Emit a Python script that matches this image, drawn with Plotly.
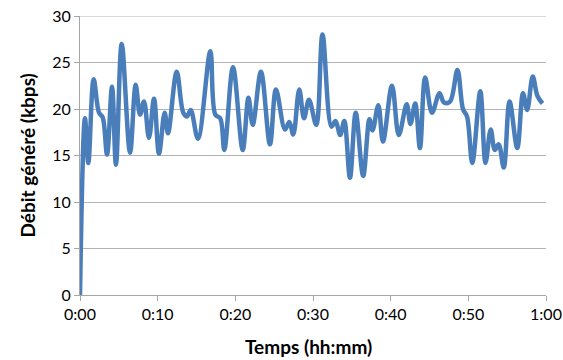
import plotly.graph_objects as go

# time in minutes since start
minutes = [0.00, 0.64, 1.07, 1.76, 2.45, 2.92, 3.48, 4.12, 4.63, 5.37,
           6.44, 7.17, 7.73, 8.24, 8.88, 9.53, 10.17, 10.90, 11.33, 12.45,
           13.30, 13.78, 14.25, 15.19, 16.78, 17.42, 18.06, 18.58, 19.70, 20.95,
           21.69, 22.24, 23.30, 24.46, 25.23, 26.39, 26.95, 27.46, 28.23, 28.84,
           29.48, 30.42, 31.22, 32.38, 32.90, 33.50, 34.03, 34.76, 35.50, 36.46,
           37.27, 37.66, 38.41, 39.01, 40.17, 41.05, 42.06, 42.55, 43.16, 43.77,
           44.44, 45.32, 46.29, 46.87, 47.64, 48.60, 49.31, 49.83, 50.51, 51.54,
           52.21, 52.88, 53.41, 53.91, 54.56, 55.31, 56.30, 57.04, 57.58, 58.29,
           58.90, 59.55]
debit = [0.0, 19.0, 14.2, 23.2, 19.6, 19.1, 15.1, 22.4, 14.0, 27.0,
         15.3, 22.6, 19.4, 20.8, 16.9, 21.1, 15.2, 19.6, 17.4, 24.0,
         19.6, 19.2, 19.9, 16.8, 26.2, 19.4, 19.0, 15.6, 24.5, 15.6,
         21.2, 18.3, 24.0, 16.2, 22.1, 17.8, 18.6, 17.25, 22.1, 19.0,
         21.0, 18.3, 28.0, 18.1, 18.7, 17.2, 18.7, 12.6, 19.6, 12.8,
         18.9, 17.7, 20.4, 16.5, 22.5, 17.2, 20.5, 18.4, 20.6, 15.8,
         23.4, 19.6, 21.7, 20.7, 20.8, 24.2, 20.0, 19.2, 14.2, 21.9,
         14.2, 17.8, 15.6, 16.2, 13.7, 20.8, 15.8, 21.7, 19.9, 23.5,
         21.4, 20.6]

x_tick_vals = [0, 10, 20, 30, 40, 50, 60]
x_tick_text = ["0:00", "0:10", "0:20", "0:30", "0:40", "0:50", "1:00"]
y_tick_vals = [0, 5, 10, 15, 20, 25, 30]
x_title = "Temps (hh:mm)"
y_title = "Débit généré (kbps)"

fig = go.Figure()
fig.add_trace(go.Scatter(
    x=minutes, y=debit, mode="lines",
    line=dict(color="#4a7ebb", width=4.5, shape="spline", smoothing=1.0),
    showlegend=False, hoverinfo="skip",
))

font_family = "Lato, 'Open Sans', sans-serif"
fig.update_layout(
    width=563, height=360,
    margin=dict(l=80, r=17, t=16, b=64.5, autoexpand=False),
    paper_bgcolor="white", plot_bgcolor="white",
    font=dict(family=font_family, size=16, color="#000000"),
    xaxis=dict(
        range=[0, 60], tickvals=x_tick_vals, ticktext=x_tick_text,
        showgrid=False, zeroline=False, automargin=False,
        showline=True, linecolor="#a6a6a6", linewidth=1,
        ticks="outside", ticklen=5, tickcolor="#a6a6a6",
        tickfont=dict(size=16),
    ),
    yaxis=dict(
        range=[0, 30], tickvals=y_tick_vals, automargin=False,
        showgrid=True, gridcolor="#b3b3b3", gridwidth=1, zeroline=False,
        showline=True, linecolor="#a6a6a6", linewidth=1,
        ticks="outside", ticklen=5, tickcolor="#a6a6a6",
        tickfont=dict(size=16),
    ),
    shapes=[
        dict(type="line", xref="paper", yref="y", x0=0, x1=1, y0=30, y1=30,
             line=dict(color="#b3b3b3", width=1), layer="below"),
    ],
    annotations=[
        dict(text="<b>" + x_title + "</b>", xref="paper", yref="paper",
             x=0.49, y=0, yshift=-51, xanchor="center", yanchor="middle",
             showarrow=False, font=dict(size=19)),
        dict(text="<b>" + y_title + "</b>", xref="paper", yref="paper",
             x=0, y=0.5, xshift=-53, xanchor="center", yanchor="middle",
             textangle=-90, showarrow=False, font=dict(size=19)),
    ],
)

fig.write_html(
    "out.html",
    config={"displayModeBar": False, "staticPlot": True},
    post_script="document.body.style.margin='0';document.body.style.overflow='hidden';",
)
